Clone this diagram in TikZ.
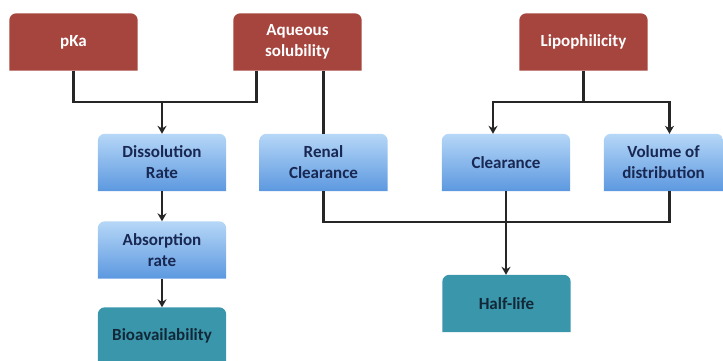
\documentclass[tikz,border=0pt]{standalone}
\usepackage{fontspec}
\setmainfont{Carlito}
\usetikzlibrary{arrows.meta,backgrounds}
\definecolor{causered}{RGB}{166,68,62}
\definecolor{bluetop}{RGB}{182,215,247}
\definecolor{bluebot}{RGB}{92,152,224}
\definecolor{tealbox}{RGB}{58,150,170}
\definecolor{navytext}{RGB}{24,40,82}
\definecolor{tealtext}{RGB}{18,40,56}
\tikzset{
  box/.style={minimum width=128pt,minimum height=57pt,inner sep=1pt,align=center,
    font=\bfseries\fontsize{17}{21}\selectfont},
  cause/.style={box,text=white},
  effect/.style={box,text=navytext},
  result/.style={box,text=tealtext},
  redfill/.style={fill=causered},
  bluefill/.style={top color=bluetop,bottom color=bluebot},
  tealfill/.style={fill=tealbox},
  line/.style={draw=black!85,line width=2.2pt},
  arrow/.style={line,-{Stealth[length=8pt,width=9pt]}}
}

\begin{document}
\begin{tikzpicture}[x=1pt,y=1pt]
        \useasboundingbox (0,0) rectangle (723,-360);
        \node[cause] (pka) at (73.5,-42) {pKa};
        \node[cause] (aq) at (297.5,-42) {Aqueous\\solubility};
        \node[cause] (lipo) at (583.5,-42) {Lipophilicity};
        \node[effect] (diss) at (162,-162.5) {Dissolution\\Rate};
        \node[effect] (renal) at (323.5,-162.5) {Renal\\Clearance};
        \node[effect] (clear) at (506,-162.5) {Clearance};
        \node[effect,minimum width=119pt] (vol) at (663.5,-162.5) {Volume of\\distribution};
        \node[effect] (absorb) at (162,-250) {Absorption\\rate};
        \node[result] (bio) at (162,-336) {Bioavailability};
        \node[result] (half) at (506.5,-303.5) {Half-life};
        \coordinate (join1) at (162,-102);
        \coordinate (join2) at (583.5,-102);
        \coordinate (join3) at (506,-222);
        % box fills, rounded on top only
        \begin{scope}[on background layer]
        \foreach \n/\f in {pka/redfill,aq/redfill,lipo/redfill,diss/bluefill,renal/bluefill,
            clear/bluefill,vol/bluefill,absorb/bluefill,bio/tealfill,half/tealfill}
          \path[\f] (\n.south west) -- ([yshift=-7pt]\n.north west)
            arc[start angle=180,end angle=90,radius=7pt] -- ([xshift=-7pt]\n.north east)
            arc[start angle=90,end angle=0,radius=7pt] -- (\n.south east) -- cycle;
        \end{scope}
        \draw[line] (pka.south) -- (pka.south |- join1) -| ([xshift=-41pt]aq.south);
        \draw[arrow] (join1) -- (diss.north);
        \draw[line] (renal.north |- aq.south) -- (renal.north);
        \draw[line] (lipo.south) -- (join2);
        \draw[arrow] (join2) -| ([xshift=-13pt]clear.north);
        \draw[arrow] (join2) -| ([xshift=6pt]vol.north);
        \draw[line] (renal.south) |- (join3) -| ([xshift=6pt]vol.south);
        \draw[arrow] (clear.south) -- (clear.south |- half.north);
        \draw[arrow] (diss) -- (absorb);
        \draw[arrow] (absorb) -- (bio);
    \end{tikzpicture}
\end{document}
